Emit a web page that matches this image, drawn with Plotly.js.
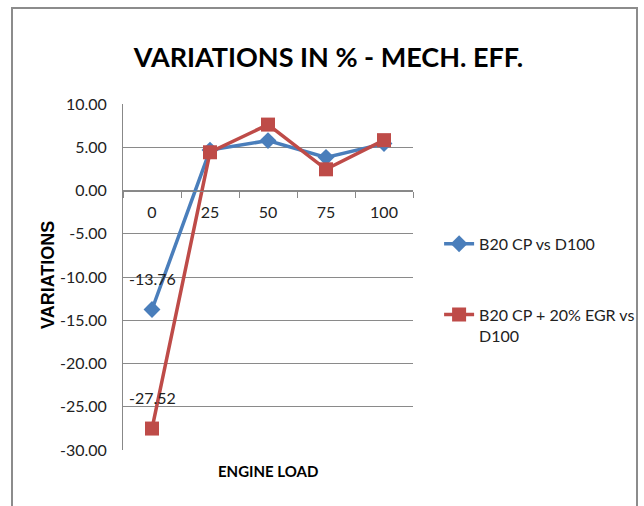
<!DOCTYPE html>
<html>
<head>
<meta charset="utf-8">
<script src="https://cdn.plot.ly/plotly-3.0.1.min.js"></script>
<style>html,body{margin:0;padding:0;background:#fff;}#chart{width:644px;height:506px;}</style>
</head>
<body>
<div id="chart"></div>
<script>
const categories = ['0', '25', '50', '75', '100'];
const seriesNames = ['B20 CP vs D100', 'B20 CP + 20% EGR vs<br>D100'];
const b20cp = [-13.76, 4.67, 5.77, 3.83, 5.42];
const b20cpEgr = [-27.52, 4.42, 7.62, 2.45, 5.82];
const yTicks = [10, 5, 0, -5, -10, -15, -20, -25, -30];

const FONT = 'Lato, "Liberation Sans", Arial, sans-serif';
const blue = '#4A7EBB';
const red = '#BE4B48';

const traces = [
  {
    x: categories, y: b20cp, name: seriesNames[0], type: 'scatter', mode: 'lines+markers',
    legendgroup: 'a',
    line: {color: blue, width: 3.5},
    marker: {symbol: 'diamond', size: 13, color: blue}
  },
  {
    x: categories, y: b20cpEgr, name: seriesNames[1], type: 'scatter', mode: 'lines+markers',
    legendgroup: 'b',
    line: {color: red, width: 3.5},
    marker: {symbol: 'square', size: 14, color: red}
  }
];

const annotations = [];
[b20cp, b20cpEgr].forEach(function (vals) {
  vals.forEach(function (v, i) {
    annotations.push({
      x: categories[i], y: v, xref: 'x', yref: 'y', text: v.toFixed(2),
      showarrow: false, yshift: 31, font: {family: FONT, size: 16, color: '#222'}
    });
  });
});
annotations.push({
  x: 0.5, y: (450 - 471) / 346, xref: 'paper', yref: 'paper', text: '<b>ENGINE LOAD</b>',
  showarrow: false, yanchor: 'middle', font: {family: FONT, size: 15, color: '#000'}
});
annotations.push({
  x: (48 - 123) / 290, y: (450 - 275) / 346, xref: 'paper', yref: 'paper', text: '<b>VARIATIONS</b>',
  showarrow: false, textangle: -90, xanchor: 'center', yanchor: 'middle',
  font: {family: '"Liberation Sans", Arial, sans-serif', size: 18, color: '#000'}
});

const layout = {
  width: 644, height: 506,
  margin: {l: 123, r: 231, t: 104, b: 56, autoexpand: false},
  paper_bgcolor: '#fff', plot_bgcolor: '#fff',
  font: {family: FONT, size: 16, color: '#000'},
  title: {text: '<b>VARIATIONS IN % - MECH. EFF.</b>', x: 0.51, xanchor: 'center', y: 0.887, yanchor: 'middle',
    font: {family: FONT, size: 27, color: '#000'}},
  xaxis: {
    type: 'category', categoryorder: 'array', categoryarray: categories,
    range: [-0.5, 4.5], anchor: 'free', position: 0.75,
    showline: true, linecolor: '#888', linewidth: 1,
    ticks: 'outside', tickson: 'boundaries', ticklen: 6, tickcolor: '#888',
    ticklabelstandoff: 7,
    showgrid: false, zeroline: false,
    tickfont: {family: FONT, size: 16, color: '#222'}
  },
  yaxis: {
    range: [-30, 10], tickvals: yTicks, ticktext: yTicks.map(function (v) { return v.toFixed(2); }),
    showline: true, linecolor: '#888', linewidth: 1,
    showgrid: true, gridcolor: '#8a8a8a', gridwidth: 1, zeroline: false,
    ticks: '', ticklabelstandoff: 12,
    tickfont: {family: FONT, size: 16, color: '#222'}
  },
  showlegend: true,
  legend: {
    x: 1.09, y: 0.645, xanchor: 'left', yanchor: 'top',
    traceorder: 'grouped', tracegroupgap: 47, valign: 'top',
    font: {family: FONT, size: 16, color: '#222'}, bgcolor: 'rgba(0,0,0,0)'
  },
  shapes: [{
    type: 'rect', xref: 'paper', yref: 'paper',
    x0: (12 - 123) / 290, x1: (637 - 123) / 290,
    y0: (450 - 515) / 346, y1: (450 - 8) / 346,
    line: {color: '#8c8c8c', width: 2}, fillcolor: 'rgba(0,0,0,0)', layer: 'below'
  }],
  annotations: annotations
};

Plotly.newPlot('chart', traces, layout, {displayModeBar: false, staticPlot: true});
</script>
</body>
</html>
